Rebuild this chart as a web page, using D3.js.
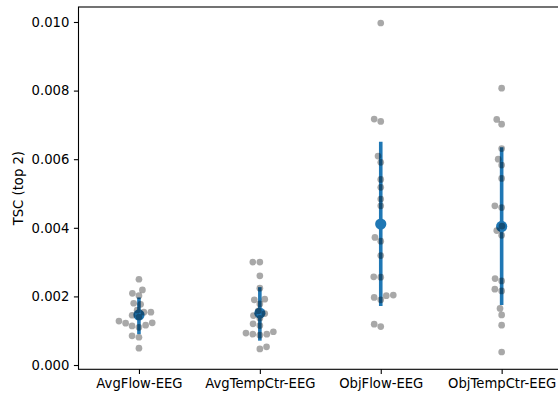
<!DOCTYPE html>
<html>
<head>
<meta charset="utf-8">
<script src="https://cdn.jsdelivr.net/npm/d3@7"></script>
<style>
  body { margin: 0; background: #fff; }
  svg { display: block; }
  text { font-family: "DejaVu Sans", sans-serif; }
</style>
</head>
<body>
<svg id="chart" width="558" height="393"></svg>
<script>
// ---- data ----
const categories = ["AvgFlow-EEG", "AvgTempCtr-EEG", "ObjFlow-EEG", "ObjTempCtr-EEG"];
const avgFlowEEG = [0.0025, 0.00219, 0.00209, 0.00202, 0.0018, 0.00177, 0.0016, 0.00154, 0.00154, 0.00145,
                    0.0014, 0.00128, 0.00123, 0.00122, 0.00116, 0.00114, 0.0011, 0.00085, 0.00081, 0.00049];
const avgTempCtrEEG = [0.003, 0.003, 0.0026, 0.00224, 0.00192, 0.0019, 0.00178, 0.00158, 0.0015, 0.00144,
                       0.00136, 0.0012, 0.00115, 0.00097, 0.00093, 0.0009, 0.0009, 0.00087, 0.00053, 0.00047];
const objFlowEEG = [0.00997, 0.00717, 0.0071, 0.00609, 0.00591, 0.00541, 0.00518, 0.00484, 0.00464, 0.00372,
                    0.00361, 0.00319, 0.00257, 0.00256, 0.00204, 0.00202, 0.00197, 0.0019, 0.00119, 0.00112];
const objTempCtrEEG = [0.00807, 0.00716, 0.00702, 0.00631, 0.006, 0.00583, 0.00544, 0.00464, 0.00459, 0.00405,
                       0.00392, 0.00378, 0.00252, 0.00245, 0.00221, 0.00216, 0.00165, 0.00146, 0.00116, 0.00038];
const ciLow  = [0.0009, 0.00071, 0.00172, 0.00175];
const ciHigh = [0.00197, 0.00227, 0.00651, 0.00635];
const yTicks = [0, 0.002, 0.004, 0.006, 0.008, 0.010];
const yLabel = "TSC (top 2)";
const yDomain = [-0.000125, 0.010437];

const seriesValues = [avgFlowEEG, avgTempCtrEEG, objFlowEEG, objTempCtrEEG];

// ---- layout ----
const W = 558, H = 393;
const padL = 78.5, padR = 562.1, padT = 7, padB = 369.3;
const fontSize = 13.2;
const tickLen = 4.6;
const pointR = 3.35;
const blue = "#1f77b4";

const svg = d3.select("#chart");
svg.append("rect").attr("width", W).attr("height", H).attr("fill", "#fff");

const x = d3.scaleLinear().domain([-0.5, categories.length - 0.5]).range([padL, padR]);
const y = d3.scaleLinear().domain(yDomain).range([padB, padT]);

// ---- pointplot: CI lines and means ----
const g = svg.append("g");
categories.forEach((c, i) => {
  g.append("line")
    .attr("x1", x(i)).attr("x2", x(i))
    .attr("y1", y(ciLow[i])).attr("y2", y(ciHigh[i]))
    .attr("stroke", blue).attr("stroke-width", 3.6);
});
categories.forEach((c, i) => {
  g.append("circle")
    .attr("cx", x(i)).attr("cy", y(d3.mean(seriesValues[i])))
    .attr("r", 5.6).attr("fill", blue);
});

// ---- swarm (seaborn-like beeswarm) ----
function swarm(values, cx, r) {
  const pts = values.map(v => ({ v, y: y(v), x: cx })).sort((a, b) => a.v - b.v);
  const placed = [];
  const d2 = 4 * r * r;
  pts.forEach((p, k) => {
    if (k === 0) { placed.push(p); return; }
    const neighbors = placed.filter(q => Math.abs(q.y - p.y) < 2 * r);
    const cands = [cx];
    neighbors.forEach(q => {
      const dy = p.y - q.y;
      const dx = Math.sqrt(Math.max(d2 - dy * dy, 0)) * 1.05;
      cands.push(q.x - dx, q.x + dx);
    });
    const order = cands.map((c, i) => ({ c, i }))
      .sort((a, b) => (Math.abs(a.c - cx) - Math.abs(b.c - cx)) || (a.i - b.i));
    for (const { c } of order) {
      if (neighbors.every(q => (c - q.x) ** 2 + (p.y - q.y) ** 2 >= d2 - 1e-9)) { p.x = c; break; }
    }
    placed.push(p);
  });
  return placed;
}

const pg = svg.append("g");
seriesValues.forEach((vals, i) => {
  const pts = swarm(vals, x(i), pointR);
  pg.selectAll(null).data(pts).enter().append("circle")
    .attr("cx", d => d.x).attr("cy", d => d.y).attr("r", pointR)
    .attr("fill", "#000").attr("fill-opacity", 0.34);
});

// ---- axes ----
const yAxis = d3.axisLeft(y).tickValues(yTicks).tickFormat(d3.format(".3f"))
  .tickSize(tickLen).tickPadding(4.6);
const ya = svg.append("g").attr("transform", `translate(${padL},0)`).call(yAxis);
ya.select(".domain").remove();

const xAxis = d3.axisBottom(x).tickValues(d3.range(categories.length))
  .tickFormat(i => categories[i]).tickSize(tickLen).tickPadding(4.6);
const xa = svg.append("g").attr("transform", `translate(0,${padB})`).call(xAxis);
xa.select(".domain").remove();

[ya, xa].forEach(a => {
  a.selectAll("text").attr("font-size", fontSize).attr("font-family", "DejaVu Sans").attr("fill", "#000");
  a.selectAll(".tick line").attr("stroke", "#000").attr("stroke-width", 1.1);
});

// spines
svg.append("rect")
  .attr("x", padL).attr("y", padT).attr("width", padR - padL).attr("height", padB - padT)
  .attr("fill", "none").attr("stroke", "#000").attr("stroke-width", 1.1);

// y label
svg.append("text")
  .attr("transform", `translate(18.5,${(padT + padB) / 2}) rotate(-90)`)
  .attr("text-anchor", "middle").attr("dominant-baseline", "central")
  .attr("font-size", fontSize).attr("fill", "#000")
  .text(yLabel);
</script>
</body>
</html>
